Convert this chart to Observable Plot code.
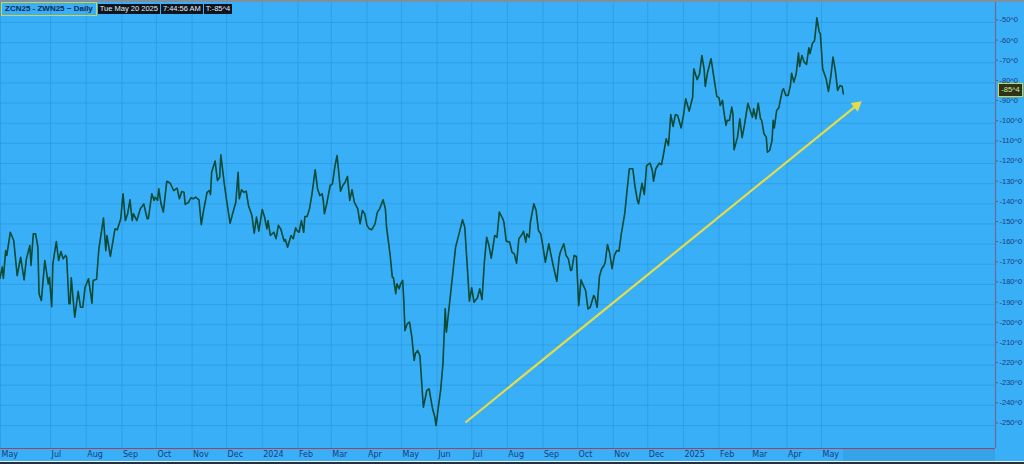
<!DOCTYPE html>
<html>
<head>
<meta charset="utf-8">
<script src="https://cdn.jsdelivr.net/npm/d3@7"></script>
<script src="https://cdn.jsdelivr.net/npm/@observablehq/plot@0.6"></script>
<style>
  html, body { margin: 0; padding: 0; background: #39aff8; overflow: hidden; }
  #wrap { position: relative; width: 1024px; height: 464px; font-family: "DejaVu Sans", sans-serif; }
  #wrap svg { display: block; }
  .topstrip { position: absolute; left: 0; top: 0; width: 1024px; height: 2px; background: #7f8f9f; }
  .hdr { position: absolute; top: 2px; left: 1px; display: flex; align-items: center; gap: 1px; font-family: "Liberation Sans", Arial, sans-serif; font-size: 7.5px; line-height: 10px; }
  .hdr .sym { border: 1.5px solid #d9d23c; padding: 1px 3px; color: #14264e; font-weight: bold; font-size: 8px; }
  .hdr .dk { background: #0c1420; color: #e8eef4; padding: 0 2px; }
  .pbox { position: absolute; left: 998px; top: 83px; width: 23px; height: 12px; border: 1.5px solid #d9d23c; background: #2c3414; color: #d8e4b0; font-family: "Liberation Sans", Arial, sans-serif; font-size: 7.5px; line-height: 12px; text-align: center; }
  .strip2 { position: absolute; left: 843px; top: 449px; width: 152px; height: 12px; background: rgba(0,20,60,0.07); }
  .botbar { position: absolute; left: 0; top: 461px; width: 1024px; height: 3px; background: #26303c; border-top: 1px solid #e8eef2; box-sizing: border-box; }
</style>
</head>
<body>
<div id="wrap"></div>
<script>
// ---- data ----
const dates = [
"2023-05-18","2023-05-20","2023-05-21","2023-05-23","2023-05-24","2023-05-27","2023-05-30","2023-06-02","2023-06-05","2023-06-08",
"2023-06-10","2023-06-13","2023-06-14","2023-06-16","2023-06-18","2023-06-20","2023-06-21","2023-06-23","2023-06-26","2023-06-29",
"2023-06-30","2023-07-02","2023-07-03","2023-07-06","2023-07-08","2023-07-10","2023-07-12","2023-07-14","2023-07-15","2023-07-17",
"2023-07-18","2023-07-19","2023-07-22","2023-07-25","2023-07-27","2023-07-29","2023-07-31","2023-08-03","2023-08-06","2023-08-07",
"2023-08-10","2023-08-12","2023-08-16","2023-08-18","2023-08-19","2023-08-22","2023-08-26","2023-08-28","2023-08-31","2023-09-02",
"2023-09-04","2023-09-06","2023-09-08","2023-09-10","2023-09-11","2023-09-14","2023-09-17","2023-09-20","2023-09-21","2023-09-23",
"2023-09-24","2023-09-27","2023-09-29","2023-09-30","2023-10-02","2023-10-03","2023-10-05","2023-10-07","2023-10-10","2023-10-13",
"2023-10-16","2023-10-19","2023-10-21","2023-10-23","2023-10-25","2023-10-26","2023-10-29","2023-10-31","2023-11-02","2023-11-04",
"2023-11-07","2023-11-09","2023-11-11","2023-11-14","2023-11-16","2023-11-17","2023-11-18","2023-11-21","2023-11-23","2023-11-25",
"2023-11-26","2023-11-29","2023-12-01","2023-12-04","2023-12-07","2023-12-09","2023-12-11","2023-12-12","2023-12-14","2023-12-16",
"2023-12-18","2023-12-20","2023-12-23","2023-12-25","2023-12-27","2023-12-29","2024-01-01","2024-01-03","2024-01-05","2024-01-06",
"2024-01-08","2024-01-11","2024-01-13","2024-01-15","2024-01-17","2024-01-20","2024-01-21","2024-01-23","2024-01-26","2024-01-28",
"2024-01-30","2024-01-31","2024-02-02","2024-02-04","2024-02-06","2024-02-07","2024-02-09","2024-02-11","2024-02-13","2024-02-16",
"2024-02-18","2024-02-20","2024-02-22","2024-02-23","2024-02-24","2024-02-26","2024-02-29","2024-03-02","2024-03-04","2024-03-06",
"2024-03-07","2024-03-09","2024-03-11","2024-03-13","2024-03-15","2024-03-17","2024-03-19","2024-03-21","2024-03-24","2024-03-26",
"2024-03-28","2024-03-30","2024-04-01","2024-04-03","2024-04-05","2024-04-08","2024-04-10","2024-04-12","2024-04-15","2024-04-17",
"2024-04-18","2024-04-21","2024-04-23","2024-04-24","2024-04-26","2024-04-27","2024-04-29","2024-04-30","2024-05-02","2024-05-03",
"2024-05-04","2024-05-06","2024-05-08","2024-05-10","2024-05-12","2024-05-13","2024-05-15","2024-05-17","2024-05-19","2024-05-20",
"2024-05-23","2024-05-25","2024-05-28","2024-05-30","2024-05-31","2024-06-02","2024-06-04","2024-06-06","2024-06-08","2024-06-09",
"2024-06-12","2024-06-15","2024-06-17","2024-06-20","2024-06-23","2024-06-25","2024-06-27","2024-06-29","2024-07-01","2024-07-03",
"2024-07-06","2024-07-08","2024-07-10","2024-07-12","2024-07-14","2024-07-16","2024-07-18","2024-07-21","2024-07-23","2024-07-25",
"2024-07-28","2024-07-29","2024-07-31","2024-08-03","2024-08-05","2024-08-07","2024-08-09","2024-08-11","2024-08-14","2024-08-15",
"2024-08-17","2024-08-18","2024-08-20","2024-08-21","2024-08-24","2024-08-26","2024-08-28","2024-08-30","2024-09-01","2024-09-03",
"2024-09-06","2024-09-08","2024-09-10","2024-09-13","2024-09-15","2024-09-16","2024-09-19","2024-09-21","2024-09-23","2024-09-25",
"2024-09-26","2024-09-28","2024-09-30","2024-10-02","2024-10-04","2024-10-06","2024-10-08","2024-10-10","2024-10-12","2024-10-15",
"2024-10-16","2024-10-18","2024-10-20","2024-10-22","2024-10-24","2024-10-25","2024-10-27","2024-10-29","2024-10-31","2024-11-02",
"2024-11-04","2024-11-06","2024-11-08","2024-11-11","2024-11-13","2024-11-15","2024-11-18","2024-11-20","2024-11-22","2024-11-23",
"2024-11-26","2024-11-28","2024-11-30","2024-12-03","2024-12-05","2024-12-06","2024-12-08","2024-12-11","2024-12-13","2024-12-15",
"2024-12-17","2024-12-19","2024-12-21","2024-12-23","2024-12-25","2024-12-27","2024-12-30","2025-01-01","2025-01-03","2025-01-06",
"2025-01-09","2025-01-10","2025-01-13","2025-01-15","2025-01-17","2025-01-19","2025-01-20","2025-01-22","2025-01-25","2025-01-27",
"2025-01-30","2025-02-01","2025-02-02","2025-02-04","2025-02-05","2025-02-07","2025-02-08","2025-02-10","2025-02-12","2025-02-13",
"2025-02-14","2025-02-17","2025-02-19","2025-02-21","2025-02-23","2025-02-26","2025-02-28","2025-03-02","2025-03-03","2025-03-05",
"2025-03-07","2025-03-09","2025-03-10","2025-03-12","2025-03-14","2025-03-15","2025-03-17","2025-03-19","2025-03-20","2025-03-21",
"2025-03-23","2025-03-25","2025-03-26","2025-03-28","2025-03-29","2025-03-31","2025-04-02","2025-04-04","2025-04-05","2025-04-07",
"2025-04-09","2025-04-11","2025-04-12","2025-04-14","2025-04-16","2025-04-18","2025-04-20","2025-04-21","2025-04-23","2025-04-25",
"2025-04-27","2025-04-29","2025-04-30","2025-05-02","2025-05-05","2025-05-07","2025-05-09","2025-05-11","2025-05-13","2025-05-15",
"2025-05-17","2025-05-19","2025-05-20"
];
const values = [
-177.0,-171.4,-177.0,-163.2,-165.6,-154.1,-158.2,-175.6,-166.5,-177.7,
-167.3,-160.7,-170.6,-154.9,-154.9,-161.5,-184.6,-188.0,-168.1,-179.7,
-176.4,-191.0,-169.8,-158.7,-168.1,-163.7,-167.3,-165.6,-166.5,-189.6,
-189.6,-176.7,-196.3,-183.4,-191.3,-191.3,-181.4,-177.2,-189.3,-178.0,
-177.4,-162.3,-147.1,-163.2,-155.7,-166.1,-152.4,-152.9,-147.4,-135.0,
-148.3,-144.9,-138.0,-148.3,-144.9,-148.3,-142.5,-140.0,-142.5,-147.4,
-147.4,-135.0,-138.3,-136.7,-138.3,-132.5,-140.0,-144.1,-128.8,-129.8,
-133.4,-132.2,-137.5,-133.9,-134.3,-140.3,-139.2,-137.0,-137.5,-136.7,
-138.0,-150.3,-143.3,-134.3,-133.4,-135.4,-124.3,-118.8,-128.4,-126.8,
-115.7,-130.1,-138.3,-149.6,-143.3,-139.2,-124.3,-137.5,-133.0,-134.3,
-133.7,-140.8,-145.8,-154.6,-146.6,-153.6,-142.8,-146.6,-152.4,-148.3,
-155.7,-154.1,-157.3,-150.7,-152.4,-158.5,-157.7,-161.5,-155.7,-157.3,
-151.9,-153.2,-154.1,-148.3,-154.1,-146.3,-146.3,-142.5,-135.9,-123.1,
-132.5,-135.9,-135.0,-138.3,-144.9,-140.0,-130.9,-130.1,-121.8,-116.0,
-121.8,-133.7,-130.9,-129.3,-126.4,-138.3,-133.0,-139.2,-142.5,-149.9,
-143.3,-144.9,-150.7,-152.4,-152.9,-149.9,-144.1,-142.5,-138.0,-142.5,
-151.6,-164.8,-176.4,-176.7,-184.6,-179.7,-182.2,-180.0,-178.0,-188.0,
-202.9,-199.5,-198.7,-206.2,-217.7,-214.4,-212.8,-215.3,-232.6,-240.9,
-232.6,-231.8,-241.7,-245.9,-250.0,-240.9,-232.6,-219.4,-192.1,-203.7,
-188.0,-172.2,-161.5,-154.9,-147.9,-151.6,-169.8,-188.3,-181.7,-188.8,
-186.6,-182.2,-187.5,-169.0,-156.6,-160.7,-167.0,-155.7,-156.6,-144.1,
-147.4,-149.1,-158.5,-159.0,-164.0,-164.8,-169.5,-157.3,-154.9,-153.6,
-159.0,-154.9,-156.6,-149.1,-140.0,-143.3,-153.2,-154.9,-161.5,-169.0,
-159.8,-165.6,-171.1,-178.4,-166.5,-164.0,-159.8,-165.6,-167.3,-173.1,
-172.7,-165.6,-166.1,-190.5,-177.7,-180.5,-183.0,-192.1,-191.3,-185.5,
-186.3,-191.3,-176.1,-172.2,-170.6,-169.0,-160.2,-164.8,-172.2,-165.6,
-163.2,-163.5,-154.9,-144.9,-133.4,-122.6,-122.6,-131.7,-138.3,-140.0,
-129.8,-135.4,-121.0,-119.8,-123.5,-128.8,-122.6,-119.8,-120.5,-114.4,
-107.7,-111.0,-95.7,-101.6,-95.7,-96.2,-102.3,-96.2,-87.9,-94.0,
-87.1,-73.0,-78.4,-75.5,-66.4,-73.3,-81.8,-74.7,-68.0,-75.5,
-86.7,-87.4,-91.2,-88.7,-93.7,-101.1,-98.6,-98.6,-92.0,-95.3,
-113.2,-106.9,-97.8,-107.2,-101.1,-90.1,-93.7,-97.0,-92.8,-97.8,
-90.1,-97.8,-98.6,-105.2,-106.9,-114.4,-113.5,-108.6,-98.6,-102.3,
-93.7,-92.3,-89.1,-83.7,-82.9,-86.2,-86.2,-81.3,-75.2,-79.6,
-75.5,-65.2,-71.8,-66.4,-69.7,-70.8,-62.6,-65.5,-60.6,-58.9,
-47.7,-54.8,-55.6,-73.0,-77.9,-84.2,-77.1,-67.2,-73.8,-83.7,
-81.3,-81.8,-85.5
];

// x-axis month ticks and labels
const xTickDates = ["2023-05-18T12:00Z","2023-07-01","2023-08-01","2023-09-01","2023-10-01","2023-11-01","2023-12-01","2024-01-01",
  "2024-02-01","2024-03-01","2024-04-01","2024-05-01","2024-06-01","2024-07-01","2024-08-01","2024-09-01","2024-10-01",
  "2024-11-01","2024-12-01","2025-01-01","2025-02-01","2025-03-01","2025-04-01","2025-05-01"];
const xTickLabels = ["May","Jul","Aug","Sep","Oct","Nov","Dec","2024","Feb","Mar","Apr","May","Jun","Jul","Aug","Sep","Oct",
  "Nov","Dec","2025","Feb","Mar","Apr","May"];

// y-axis ticks
const yTicks = [-50,-60,-70,-80,-90,-100,-110,-120,-130,-140,-150,-160,-170,-180,-190,-200,-210,-220,-230,-240,-250];

// trend arrow (start / head) in data units
const arrowStartDate = "2024-06-25T14:00Z", arrowStartValue = -248.5;
const arrowEndDate = "2025-05-31T14:00Z", arrowEndValue = -91.1;

// visible ranges
const xDomain = [new Date("2023-05-18T12:00Z"), new Date("2025-09-29T05:00Z")];
const yDomain = [-261.4, -40.1];

// ---- build ----
const series = dates.map((d, i) => ({date: new Date(d), value: values[i]}));
const tickDates = xTickDates.map(d => new Date(d));
const labelMap = new Map(tickDates.map((d, i) => [+d, xTickLabels[i]]));
const arrowData = [{x1: new Date(arrowStartDate), y1: arrowStartValue, x2: new Date(arrowEndDate), y2: arrowEndValue}];

const gridColor = "#2791d4";
const textColor = "#1c3c78";

const chart = Plot.plot({
  width: 1024,
  height: 464,
  marginLeft: 0,
  marginRight: 29,
  marginTop: 2,
  marginBottom: 16,
  style: {background: "#39aff8", fontFamily: "DejaVu Sans, sans-serif", fontSize: "8px", overflow: "visible"},
  x: {type: "utc", domain: xDomain, axis: null},
  y: {domain: yDomain, axis: null},
  marks: [
    Plot.gridX(tickDates, {stroke: gridColor, strokeOpacity: 0.5, strokeWidth: 1}),
    Plot.gridY(yTicks, {stroke: gridColor, strokeOpacity: 0.5, strokeWidth: 1}),
    Plot.ruleY([yDomain[0]], {stroke: "#a8405a", strokeWidth: 1}),
    Plot.ruleX([xDomain[1]], {stroke: "#6a6c9c", strokeWidth: 1.2}),
    Plot.axisY(yTicks, {
      anchor: "right", tickSize: 2, tickPadding: 2, dy: -2.5,
      tickFormat: d => `${d}^0`, fill: textColor, stroke: "#5a5c8c",
      fontSize: 7.5, fontFamily: "Liberation Sans, Arial, sans-serif"
    }),
    Plot.axisX(tickDates, {
      anchor: "bottom", tickSize: 0, tickPadding: 3, textAnchor: "start", dx: 1,
      tickFormat: d => labelMap.get(+d), fill: textColor, fontSize: 8
    }),
    Plot.link(arrowData, {x1: "x1", y1: "y1", x2: "x2", y2: "y2", stroke: "#e4dc4a", strokeWidth: 2.2}),
    Plot.dot(arrowData, {x: "x2", y: "y2", symbol: "triangle", r: 4.2, fill: "#e4dc4a", stroke: "none", rotate: 51}),
    Plot.line(series, {x: "date", y: "value", stroke: "#0c4a36", strokeWidth: 1.6, strokeLinejoin: "round"})
  ]
});

const wrap = document.getElementById("wrap");
wrap.appendChild(chart);
wrap.insertAdjacentHTML("beforeend", `
  <div class="topstrip"></div>
  <div class="strip2"></div>
  <div class="hdr">
    <span class="sym">ZCN25 - ZWN25 ~ Daily</span>
    <span class="dk">Tue May 20 2025</span>
    <span class="dk">7:44:56 AM</span>
    <span class="dk">T:-85^4</span>
  </div>
  <div class="pbox">-85^4</div>
  <div class="botbar"></div>
`);
</script>
</body>
</html>
